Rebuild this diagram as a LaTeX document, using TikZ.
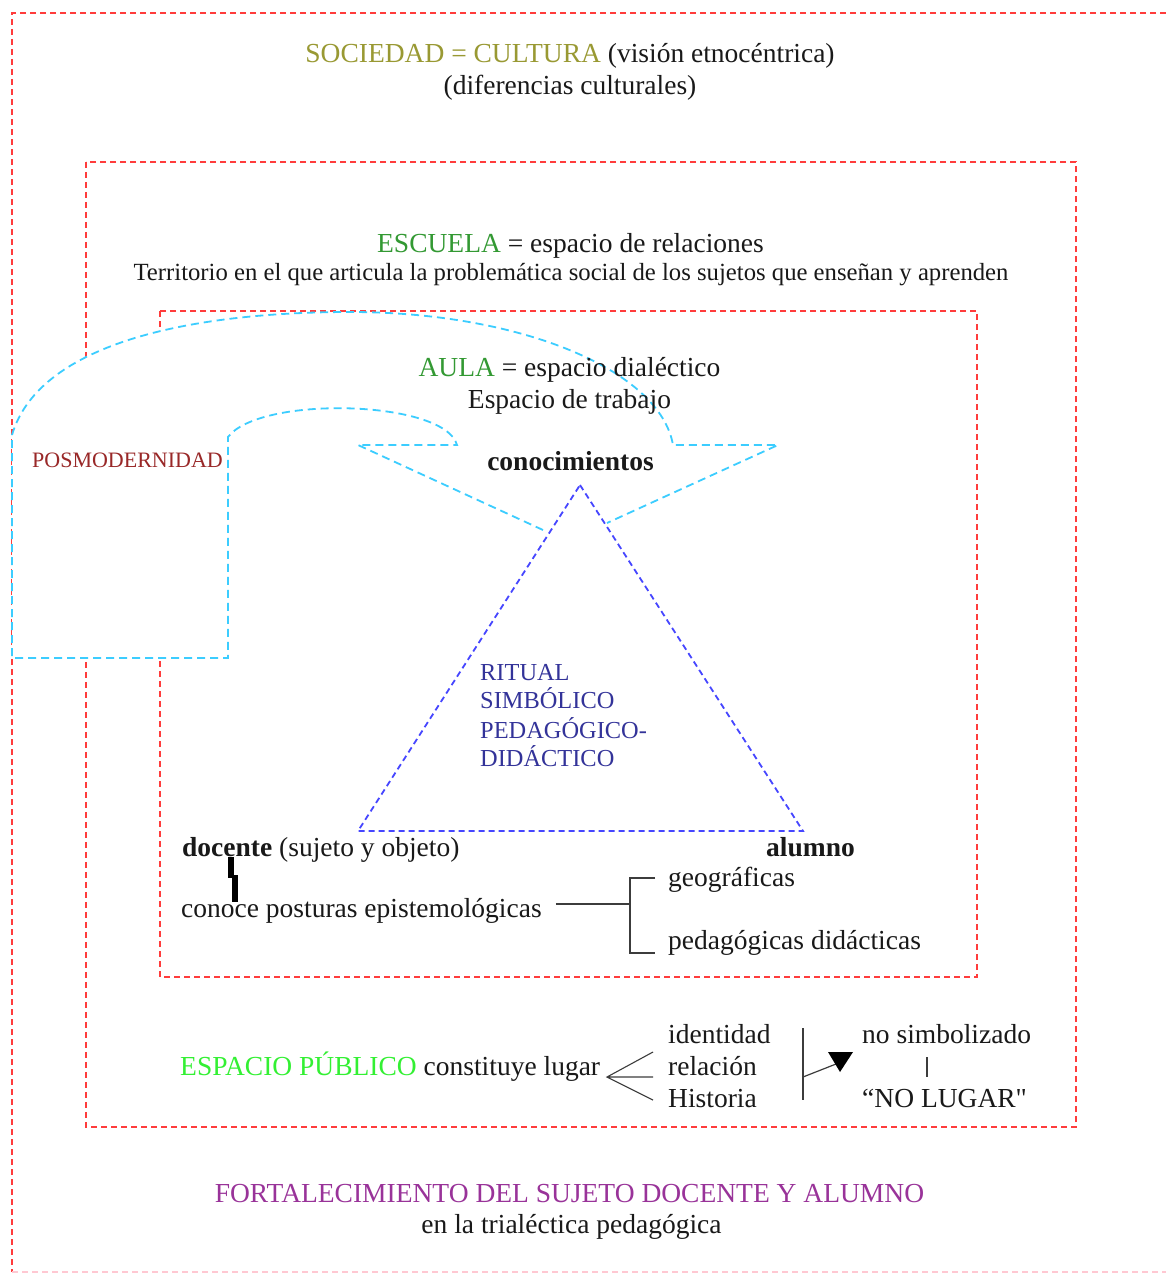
\documentclass[tikz,border=0pt]{standalone}
\usepackage{fontspec}
\setmainfont{Liberation Serif}[Ligatures=TeXOff]
\definecolor{boxred}{RGB}{255,60,60}
\definecolor{boxpink}{RGB}{255,200,210}
\definecolor{cyanl}{RGB}{60,205,255}
\definecolor{triblue}{RGB}{70,70,255}
\definecolor{olivet}{RGB}{153,153,51}
\definecolor{schoolgreen}{RGB}{51,153,51}
\definecolor{pubgreen}{RGB}{51,240,51}
\definecolor{posred}{RGB}{153,40,40}
\definecolor{ritblue}{RGB}{51,51,153}
\definecolor{purp}{RGB}{153,51,153}
\definecolor{txt}{RGB}{25,25,25}
\begin{document}
\begin{tikzpicture}[x=1pt,y=-1pt,
  redbox/.style={draw=boxred, line width=1.8pt, dash pattern=on 6pt off 4pt},
  cyanline/.style={draw=cyanl, line width=1.8pt, dash pattern=on 8pt off 5pt},
  triline/.style={draw=triblue, line width=1.8pt, dash pattern=on 6pt off 4pt},
  plain/.style={draw=txt!85, line width=1.4pt},
  thickbar/.style={draw=black, line width=5.5pt},
  lbl/.style={inner sep=0pt, text=txt, font=\fontsize{27.5}{30}\selectfont},
  lblb/.style={lbl, font=\fontsize{27.5}{30}\selectfont\bfseries},
  small/.style={lbl, font=\fontsize{22}{24}\selectfont},
  rit/.style={lbl, anchor=mid west, text=ritblue, font=\fontsize{24.4}{28}\selectfont}]
\useasboundingbox (0,0) rectangle (1166,1274);
\fill[white] (0,0) rectangle (1166,1274);

% boxes
\draw[redbox] (1166,13) -- (12,13) -- (12,1272);
\draw[redbox, draw=boxpink] (12,1272) -- (1166,1272);
\draw[redbox] (86,162) rectangle (1076,1127);
\draw[redbox] (160,311) rectangle (977,977);

% posmodernidad arrow shape
\fill[white] (543,530) -- (358,445) -- (457,445)
  .. controls (445,400) and (260,395) .. (228,437)
  -- (228,658) -- (12,658) -- (12,435)
  .. controls (40,340) and (200,312) .. (350,312)
  .. controls (520,312) and (660,370) .. (673,445)
  -- (778,445) -- (607,523) -- cycle;
\draw[cyanline] (543,530) -- (358,445) -- (457,445)
  .. controls (445,400) and (260,395) .. (228,437)
  -- (228,658) -- (12,658) -- (12,435)
  .. controls (40,340) and (200,312) .. (350,312)
  .. controls (520,312) and (660,370) .. (673,445)
  -- (778,445) -- (607,523);

% triangle
\coordinate (apex) at (580,485);
\coordinate (tl) at (358,831);
\coordinate (tr) at (803,831);
\draw[triline] (apex) -- (tr) -- (tl) -- cycle;

% texts
\node[lbl, anchor=mid] (soc) at (570,60) {\textcolor{olivet}{SOCIEDAD = CULTURA} (visión etnocéntrica)};
\node[lbl, anchor=mid] (dif) at (570,92) {(diferencias culturales)};
\node[lbl, anchor=mid] (esc) at (570.5,250) {\textcolor{schoolgreen}{ESCUELA} = espacio de relaciones};
\node[lbl, anchor=mid, font=\fontsize{24.7}{27}\selectfont] (terr) at (571,278) {Territorio en el que articula la problemática social de los sujetos que enseñan y aprenden};
\node[lbl, anchor=mid] (aula) at (569.5,374) {\textcolor{schoolgreen}{AULA} = espacio dialéctico};
\node[lbl, anchor=mid] (trab) at (569.5,406) {Espacio de trabajo};
\node[lblb, anchor=mid] (con) at (570.5,468) {conocimientos};
\node[small, anchor=mid west, text=posred] (pos) at (32,465) {POSMODERNIDAD};

\node[rit] (r1) at (480,678) {RITUAL};
\node[rit] (r2) at (480,706) {SIMBÓLICO};
\node[rit] (r3) at (480,736) {PEDAGÓGICO-};
\node[rit] (r4) at (480,764) {DIDÁCTICO};

\node[lbl, anchor=mid west] (doc) at (182,854) {\textbf{docente} (sujeto y objeto)};
\node[lblb, anchor=mid west] (alu) at (766,854) {alumno};
\node[lbl, anchor=mid west] (conoce) at (181,915) {conoce posturas epistemológicas};
\node[lbl, anchor=mid west] (geo) at (668,884) {geográficas};
\node[lbl, anchor=mid west] (ped) at (668,947) {pedagógicas didácticas};

\node[lbl, anchor=mid west] (pub) at (180,1073) {\textcolor{pubgreen}{ESPACIO PÚBLICO} constituye lugar};
\node[lbl, anchor=mid west] (ident) at (668,1041) {identidad};
\node[lbl, anchor=mid west] (rel) at (668,1073) {relación};
\node[lbl, anchor=mid west] (hist) at (668,1105) {Historia};
\node[lbl, anchor=mid west] (nosim) at (862,1041) {no simbolizado};
\node[lbl, anchor=mid west] (nolug) at (862,1105) {“NO LUGAR"};

\node[lbl, anchor=mid, text=purp] (fort) at (569.5,1200) {FORTALECIMIENTO DEL SUJETO DOCENTE Y ALUMNO};
\node[lbl, anchor=mid] (trial) at (571.5,1231) {en la trialéctica pedagógica};

% connectors
\coordinate (barT) at (231,857);
\coordinate (barM1) at (231,878);
\coordinate (barM2) at (235,875);
\coordinate (barB) at (235,902);
\draw[thickbar] (barT) -- (barM1) (barM2) -- (barB);

\coordinate (bj) at (630,904);
\coordinate (bT) at (630,878);
\coordinate (bB) at (630,953);
\coordinate (bTe) at (655,878);
\coordinate (bBe) at (655,953);
\draw[plain] (conoce.mid east) ++(14,-11) -- (bj);
\draw[plain] (bTe) -- (bT) -- (bB) -- (bBe);

\coordinate (fan) at (607,1077);
\coordinate (f1) at (653,1052);
\coordinate (f2) at (653,1077);
\coordinate (f3) at (653,1100);
\draw[plain, line width=1.1pt] (f1) -- (fan) -- (f3) (fan) -- (f2);

\coordinate (vT) at (803,1028);
\coordinate (vB) at (803,1100);
\coordinate (vM) at (803,1077);
\coordinate (aE) at (836,1064);
\draw[plain, line width=1.2pt] (vT) -- (vB);
\draw[plain, line width=1.2pt] (vM) -- (aE);
\fill[black] (828,1052) -- (853,1052) -- (840,1072) -- cycle;

\coordinate (sT) at (927,1057);
\coordinate (sB) at (927,1077);
\draw[plain, line width=1.2pt] (sT) -- (sB);
\end{tikzpicture}
\end{document}
